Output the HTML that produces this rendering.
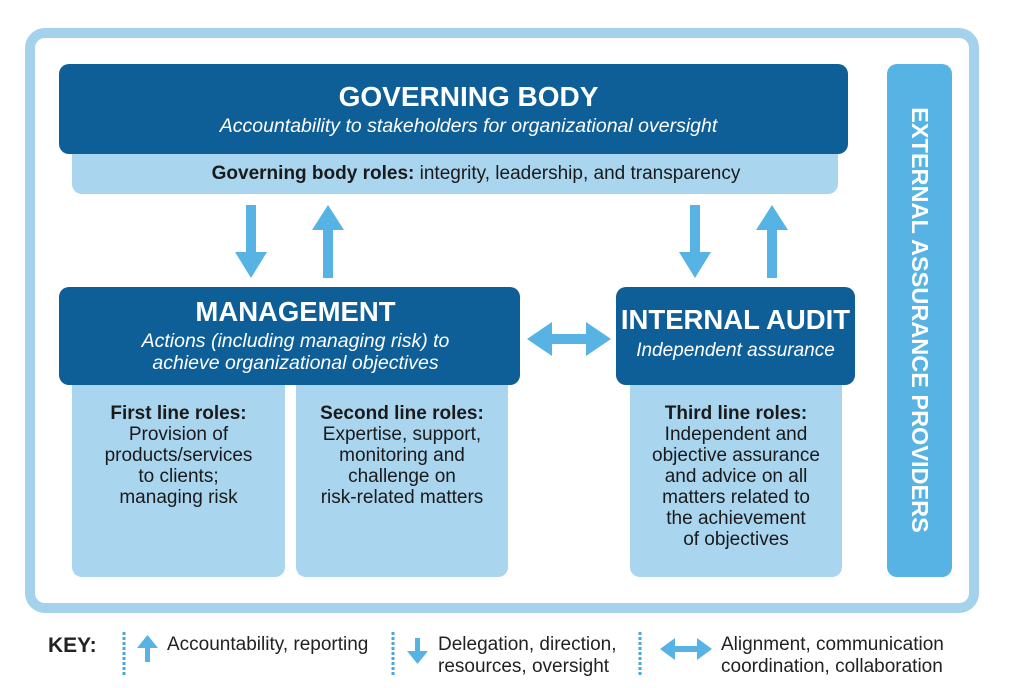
<!DOCTYPE html>
<html><head><style>
body{margin:0;width:1024px;height:688px;background:#fff;position:relative;font-family:"Liberation Sans",Arial,sans-serif;overflow:hidden}
div{position:absolute;box-sizing:border-box}
.dk{background:#0e5f98;color:#fff;border-radius:10px;text-align:center}
.lt{background:#a9d5ef;color:#1a1a1a;text-align:center;border-radius:0 0 10px 10px;font-size:19px;line-height:21px;white-space:nowrap}
.h{font-weight:bold}
</style></head><body>
<div style="left:25px;top:28px;width:954px;height:585px;border:10px solid #a4d2ec;border-radius:20px"></div>
<div class="lt" style="left:72px;top:140px;width:766px;height:54px;padding-top:23px;padding-left:42px"><span class="h">Governing body roles:</span> integrity, leadership, and transparency</div>
<div class="dk" style="left:59px;top:64px;width:789px;height:90px;padding-left:30px">
<div style="position:static;font-size:28px;font-weight:bold;margin-top:18px;line-height:30px">GOVERNING BODY</div>
<div style="position:static;font-size:19.5px;font-style:italic;margin-top:3px">Accountability to stakeholders for organizational oversight</div></div>
<div class="lt" style="left:72px;top:375px;width:213px;height:202px;padding-top:28px"><span class="h">First line roles:</span><br>Provision of<br>products/services<br>to clients;<br>managing risk</div>
<div class="lt" style="left:296px;top:375px;width:212px;height:202px;padding-top:28px"><span class="h">Second line roles:</span><br>Expertise, support,<br>monitoring and<br>challenge on<br>risk-related matters</div>
<div class="dk" style="left:59px;top:287px;width:461px;height:98px;padding-left:12px">
<div style="position:static;font-size:27.5px;font-weight:bold;margin-top:10px;line-height:30px">MANAGEMENT</div>
<div style="position:static;font-size:19.5px;font-style:italic;margin-top:3px;line-height:22px">Actions (including managing risk) to<br>achieve organizational objectives</div></div>
<div class="lt" style="left:630px;top:375px;width:212px;height:202px;padding-top:28px"><span class="h">Third line roles:</span><br>Independent and<br>objective assurance<br>and advice on all<br>matters related to<br>the achievement<br>of objectives</div>
<div class="dk" style="left:616px;top:287px;width:239px;height:98px">
<div style="position:static;font-size:27.5px;font-weight:bold;margin-top:18px;line-height:30px;white-space:nowrap">INTERNAL AUDIT</div>
<div style="position:static;font-size:19px;font-style:italic;margin-top:5px">Independent assurance</div></div>
<div style="left:887px;top:64px;width:65px;height:513px;background:#56b3e3;border-radius:10px"></div>
<div style="left:920px;top:320px;width:0;height:0"><div style="left:-250px;top:-15px;width:500px;height:30px;transform:rotate(90deg);color:#fff;font-weight:bold;font-size:23.5px;text-align:center;line-height:30px;white-space:nowrap">EXTERNAL ASSURANCE PROVIDERS</div></div>
<svg width="1024" height="688" style="position:absolute;left:0;top:0" fill="#56b3e3">
<rect x="246" y="205" width="10" height="50"/><polygon points="235,252 267,252 251,278"/>
<rect x="323" y="228" width="10" height="50"/><polygon points="312,230 344,230 328,205"/>
<rect x="690" y="205" width="10" height="50"/><polygon points="679,252 711,252 695,278"/>
<rect x="767" y="228" width="10" height="50"/><polygon points="756,230 788,230 772,205"/>
<rect x="548" y="334" width="42" height="10"/><polygon points="527,339 552,322 552,356"/><polygon points="611,339 586,322 586,356"/>
<g stroke="#4aa8d8" stroke-width="3" stroke-dasharray="3,2"><line x1="124" y1="632" x2="124" y2="677"/><line x1="393" y1="632" x2="393" y2="677"/><line x1="640" y1="632" x2="640" y2="677"/></g>
<rect x="145" y="645" width="5" height="17"/><polygon points="137,648 158,648 147.5,635"/>
<rect x="415" y="638" width="5" height="17"/><polygon points="407,651 428,651 417.5,664"/>
<rect x="670" y="646" width="30" height="6"/><polygon points="660,649 675,638 675,660"/><polygon points="712,649 697,638 697,660"/>
</svg>
<div style="left:48px;top:634px;font-size:21px;font-weight:bold;color:#222">KEY:</div>
<div style="left:167px;top:634px;font-size:19px;color:#222;line-height:22px">Accountability, reporting</div>
<div style="left:438px;top:634px;font-size:19px;color:#222;line-height:22px">Delegation, direction,<br>resources, oversight</div>
<div style="left:721px;top:634px;font-size:19px;color:#222;line-height:22px">Alignment, communication<br>coordination, collaboration</div>
</body></html>
